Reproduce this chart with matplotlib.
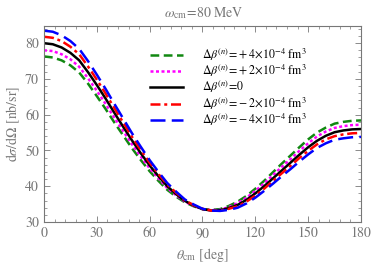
import numpy as np
import matplotlib
matplotlib.use('Agg')
import matplotlib.pyplot as plt
from matplotlib.ticker import MultipleLocator

plt.rcParams['font.family'] = 'STIXGeneral'
plt.rcParams['mathtext.fontset'] = 'stix'

theta = list(range(0, 181, 5))

# dsigma/dOmega [nb/sr]
beta_p4 = [76.3, 76.0, 75.2, 73.8, 71.8, 68.7, 65.2, 61.6, 57.8, 54.2, 50.6, 47.3, 44.2, 41.5, 39.0, 37.1, 35.5, 34.4, 33.6,
           33.4, 33.6, 34.5, 35.7, 37.3, 39.3, 41.5, 43.9, 46.3, 48.6, 50.9, 53.1, 55.0, 56.4, 57.5, 58.0, 58.3, 58.4]
beta_p2 = [78.0, 77.8, 76.9, 75.5, 73.4, 70.2, 66.7, 63.0, 59.1, 55.4, 51.7, 48.3, 45.0, 42.2, 39.5, 37.5, 35.7, 34.5, 33.6,
           33.3, 33.4, 34.2, 35.3, 36.8, 38.7, 40.8, 43.1, 45.4, 47.6, 49.9, 52.0, 53.9, 55.3, 56.3, 56.8, 57.1, 57.2]
beta_0 = [80.0, 79.7, 78.8, 77.3, 75.2, 71.9, 68.3, 64.5, 60.5, 56.6, 52.8, 49.2, 45.8, 42.8, 40.0, 37.8, 35.9, 34.6, 33.6,
          33.2, 33.3, 33.9, 34.8, 36.2, 38.0, 40.0, 42.2, 44.4, 46.6, 48.8, 50.9, 52.7, 54.1, 55.1, 55.6, 55.9, 56.0]
beta_m2 = [81.8, 81.5, 80.6, 79.0, 76.9, 73.5, 69.8, 65.9, 61.8, 57.8, 53.8, 50.1, 46.6, 43.4, 40.5, 38.2, 36.1, 34.7, 33.7,
           33.2, 33.2, 33.7, 34.4, 35.7, 37.4, 39.3, 41.5, 43.6, 45.7, 47.9, 49.9, 51.7, 53.1, 54.0, 54.5, 54.8, 54.9]
beta_m4 = [83.5, 83.2, 82.2, 80.6, 78.4, 75.0, 71.2, 67.2, 63.0, 58.9, 54.8, 51.0, 47.3, 44.0, 40.9, 38.5, 36.3, 34.9, 33.7,
           33.2, 33.1, 33.4, 34.0, 35.2, 36.8, 38.7, 40.7, 42.8, 44.8, 46.9, 48.9, 50.7, 52.0, 53.0, 53.4, 53.7, 53.8]

labels = [r'$\Delta\beta^{(n)}\!=\!+4\!\times\!10^{-4}\ \mathrm{fm}^3$',
          r'$\Delta\beta^{(n)}\!=\!+2\!\times\!10^{-4}\ \mathrm{fm}^3$',
          r'$\Delta\beta^{(n)}\!=\!0$',
          r'$\Delta\beta^{(n)}\!=\!-2\!\times\!10^{-4}\ \mathrm{fm}^3$',
          r'$\Delta\beta^{(n)}\!=\!-4\!\times\!10^{-4}\ \mathrm{fm}^3$']

gray = '#777777'

fig = plt.figure(figsize=(3.74, 2.69), dpi=100)
ax = fig.add_axes([0.1176, 0.1747, 0.8476, 0.7286])

ax.plot(theta, beta_p4, color='#118811', lw=1.8, dashes=(3.5, 1.8), label=labels[0])
ax.plot(theta, beta_p2, color='#ff00ff', lw=1.8, dashes=(1.2, 1.0), label=labels[1])
ax.plot(theta, beta_0, color='black', lw=1.8, label=labels[2])
ax.plot(theta, beta_m2, color='#ff0000', lw=1.8, dashes=(4, 1.5, 1.2, 1.5), label=labels[3])
ax.plot(theta, beta_m4, color='#0000ff', lw=1.8, dashes=(6, 2.5), label=labels[4])

ax.set_xlim(0, 180)
ax.set_ylim(30, 84.8)
ax.xaxis.set_major_locator(MultipleLocator(30))
ax.xaxis.set_minor_locator(MultipleLocator(6))
ax.yaxis.set_major_locator(MultipleLocator(10))
ax.yaxis.set_minor_locator(MultipleLocator(2))
ax.tick_params(which='both', direction='in', top=True, right=True, color=gray, labelcolor=gray, labelsize=10)
ax.tick_params(which='major', length=4, width=0.6)
ax.tick_params(which='minor', length=2, width=0.5)
for s in ax.spines.values():
    s.set_color(gray)
    s.set_linewidth(0.8)

ax.set_xlabel(r'$\theta_{\mathrm{cm}}$ [deg]', color=gray, fontsize=10)
ax.set_ylabel(r'$\mathrm{d}\sigma/\mathrm{d}\Omega$ [nb/sr]', color=gray, fontsize=10, labelpad=2)
fig.text(0.545, 0.952, r'$\omega_{\mathrm{cm}}\!=\!80\ \mathrm{MeV}$', color=gray, fontsize=10, ha='center', va='center')

ax.legend(loc='upper left', bbox_to_anchor=(0.334, 0.895), frameon=False, fontsize=8.6,
          handlelength=2.8, handletextpad=1.6, labelspacing=0.0, borderpad=0, borderaxespad=0)

fig.savefig('out.png', dpi=100)
